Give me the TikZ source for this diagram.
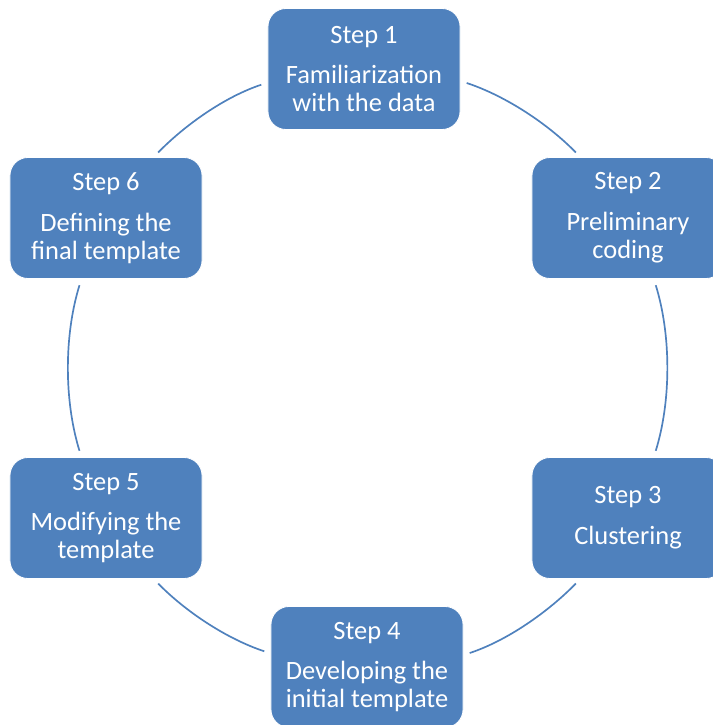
\documentclass[tikz,border=0pt]{standalone}
\usepackage{fontspec}
\setmainfont{Carlito}
\usepackage{tikz}
\usepackage{xcolor}
\usetikzlibrary{arrows.meta,positioning,calc}
\definecolor{StepBlue}{RGB}{79,129,189}

\begin{document}
\begin{tikzpicture}[x=0.025cm, y=0.025cm,
  stepbox/.style={draw=white, line width=0.6pt, rounded corners=0.45cm, fill=StepBlue, text=white, align=center, outer sep=0pt, inner sep=2pt, minimum width=4.8cm, minimum height=3.025cm, font=\fontsize{18.8}{20}\selectfont},
  cycline/.style={draw=StepBlue, line width=1.2pt, looseness=0.85, shorten <=5pt, shorten >=5pt}]
\useasboundingbox (0,0) rectangle (712,-725);

\node[stepbox] (s1) at (364,-69) {Step 1\\[9pt]Familiarization\\with the data};
\node[stepbox] (s2) at (628,-218) {Step 2\\[9pt]Preliminary\\coding};
\node[stepbox] (s3) at (628,-518) {Step 3\\[9pt]Clustering};
\node[stepbox] (s4) at (367,-667) {Step 4\\[9pt]Developing the\\initial template};
\node[stepbox] (s5) at (106,-518) {Step 5\\[9pt]Modifying the\\template};
\node[stepbox] (s6) at (106,-218) {Step 6\\[9pt]Defining the\\final template};

\draw[cycline] (s1.-7.8) to[out=-18.3, in=134.3] (s2.128);
\draw[cycline] (s2.-67.9) to[out=-72.8, in=72.8] (s3.67.9);
\draw[cycline] (s3.-128) to[out=-134.3, in=18.3] (s4.7.8);
\draw[cycline] (s4.172.2) to[out=161.7, in=-45.7] (s5.-52);
\draw[cycline] (s5.112.1) to[out=107.2, in=-107.2] (s6.-112.1);
\draw[cycline] (s6.52) to[out=45.7, in=-161.7] (s1.-172.2);
\end{tikzpicture}
\end{document}
